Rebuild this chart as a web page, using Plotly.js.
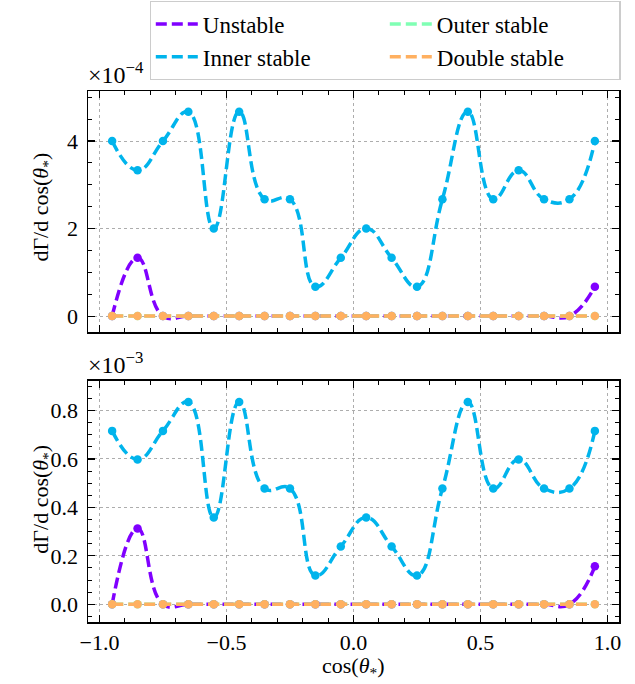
<!DOCTYPE html>
<html>
<head>
<meta charset="utf-8">
<script src="https://cdn.plot.ly/plotly-3.0.1.min.js"></script>
<style>html,body{margin:0;padding:0;background:#fff;}#plot{width:635px;height:684px;}</style>
</head>
<body>
<div id="plot"></div>
<script>
// cos(theta*) bin centres
const cosTheta = [-0.95,-0.85,-0.75,-0.65,-0.55,-0.45,-0.35,-0.25,-0.15,-0.05,0.05,0.15,0.25,0.35,0.45,0.55,0.65,0.75,0.85,0.95];

// Top panel (x1e-4)
const topUnstable = [0,1.33,0,0,0,0,0,0,0,0,0,0,0,0,0,0,0,0,0,0.67].map(v=>v*1e-4);
const topInner    = [4.0,3.33,4.0,4.67,2.0,4.67,2.67,2.67,0.67,1.33,2.0,1.33,0.67,2.67,4.67,2.67,3.33,2.67,2.67,4.0].map(v=>v*1e-4);
const topOuter    = [0,0,0,0,0,0,0,0,0,0,0,0,0,0,0,0,0,0,0,0];
const topDouble   = [0,0,0,0,0,0,0,0,0,0,0,0,0,0,0,0,0,0,0,0];

// Bottom panel (x1e-3)
const botUnstable = [0,0.313,0,0,0,0,0,0,0,0,0,0,0,0,0,0,0,0,0,0.157].map(v=>v*1e-3);
const botInner    = [0.716,0.598,0.716,0.835,0.358,0.835,0.478,0.478,0.119,0.239,0.358,0.239,0.119,0.478,0.835,0.478,0.598,0.478,0.478,0.716].map(v=>v*1e-3);
const botOuter    = [0,0,0,0,0,0,0,0,0,0,0,0,0,0,0,0,0,0,0,0];
const botDouble   = [0,0,0,0,0,0,0,0,0,0,0,0,0,0,0,0,0,0,0,0];

const seriesNames = ['Unstable','Inner stable','Outer stable','Double stable'];
const seriesColors = ['#8000ff','#00b4ec','#80ffb4','#ffb060'];
const legendRanks = [1,3,2,4];

const topData = [topUnstable, topInner, topOuter, topDouble];
const botData = [botUnstable, botInner, botOuter, botDouble];

const FONT = 'Liberation Serif, DejaVu Serif, serif';
const traces = [];
function addPanel(data, xa, ya, showLegend){
  data.forEach((vals,i)=>{
    traces.push({
      x: cosTheta, y: vals, xaxis: xa, yaxis: ya, type:'scatter', mode:'lines',
      name: seriesNames[i], legendrank: legendRanks[i], showlegend: showLegend,
      line:{color: seriesColors[i], width:3.5, dash:'11px,5px', shape:'spline', smoothing:1.3},
      hoverinfo:'skip'
    });
    traces.push({
      x: cosTheta, y: vals, xaxis: xa, yaxis: ya, type:'scatter', mode:'markers',
      showlegend:false, name: seriesNames[i],
      marker:{color: seriesColors[i], size:8.5}
    });
  });
}
addPanel(topData,'x','y',true);
addPanel(botData,'x2','y2',false);

const axCommon = {
  showline:true, linecolor:'black', linewidth:1.5, mirror:'allticks',
  ticks:'inside', ticklen:7, tickwidth:1.1, tickcolor:'black',
  showgrid:true, gridcolor:'#999', griddash:'dot', gridwidth:0.8,
  zeroline:false, automargin:false, tickfont:{family:FONT, size:22, color:'black'}
};

const layout = {
  width:635, height:684,
  margin:{l:88, r:16, t:91, b:62, autoexpand:false},
  paper_bgcolor:'white', plot_bgcolor:'white',
  font:{family:FONT, size:22, color:'black'},
  showlegend:true,
  legend:{orientation:'h', x:1.003, xanchor:'right', y:1.169, yanchor:'top',
    bordercolor:'#cccccc', borderwidth:1.2, bgcolor:'white',
    font:{family:FONT, size:23}, entrywidth:177, itemwidth:42, tracegroupgap:0},
  xaxis: Object.assign({}, axCommon, {domain:[0,1], anchor:'y', range:[-1.045,1.045],
    tickvals:[-1,-0.5,0,0.5,1], showticklabels:false,
    minor:{dtick:0.1, tick0:0, ticks:'inside', ticklen:4, tickwidth:1, tickcolor:'black', showgrid:false}}),
  yaxis: Object.assign({}, axCommon, {domain:[0.546,1], anchor:'x', range:[-0.366e-4,5.143e-4],
    tickvals:[0,2e-4,4e-4], ticktext:['0','2','4'], ticklabelstandoff:4,
    minor:{dtick:0.5e-4, tick0:0, ticks:'inside', ticklen:4, tickwidth:1, tickcolor:'black', showgrid:false}}),
  xaxis2: Object.assign({}, axCommon, {domain:[0,1], anchor:'y2', range:[-1.045,1.045], matches:'x',
    tickvals:[-1,-0.5,0,0.5,1], ticktext:['\u22121.0','\u22120.5','0.0','0.5','1.0'], ticklabelstandoff:0,
    minor:{dtick:0.1, tick0:0, ticks:'inside', ticklen:4, tickwidth:1, tickcolor:'black', showgrid:false}}),
  yaxis2: Object.assign({}, axCommon, {domain:[0,0.4539], anchor:'x2', range:[-0.073e-3,0.922e-3],
    tickvals:[0,0.2e-3,0.4e-3,0.6e-3,0.8e-3], ticktext:['0.0','0.2','0.4','0.6','0.8'], ticklabelstandoff:4,
    minor:{dtick:0.05e-3, tick0:0, ticks:'inside', ticklen:4, tickwidth:1, tickcolor:'black', showgrid:false}}),
  annotations:[
    {xref:'paper', yref:'paper', x:-0.003, y:1.001, xanchor:'left', yanchor:'bottom', showarrow:false,
     text:'\u00d710<sup>\u22124</sup>', font:{family:FONT, size:24}},
    {xref:'paper', yref:'paper', x:-0.003, y:0.455, xanchor:'left', yanchor:'bottom', showarrow:false,
     text:'\u00d710<sup>\u22123</sup>', font:{family:FONT, size:24}},
    {xref:'paper', yref:'paper', x:-0.086, y:0.781, xanchor:'center', yanchor:'middle', showarrow:false, textangle:-90,
     text:'d\u0393/d cos(<i>\u03b8</i><sub>*</sub>)', font:{family:FONT, size:22}},
    {xref:'paper', yref:'paper', x:-0.086, y:0.231, xanchor:'center', yanchor:'middle', showarrow:false, textangle:-90,
     text:'d\u0393/d cos(<i>\u03b8</i><sub>*</sub>)', font:{family:FONT, size:22}},
    {xref:'paper', yref:'paper', x:0.5, y:-0.084, xanchor:'center', yanchor:'middle', showarrow:false,
     text:'cos(<i>\u03b8</i><sub>*</sub>)', font:{family:FONT, size:22}}
  ]
};

Plotly.newPlot('plot', traces, layout, {staticPlot:true, displayModeBar:false});
</script>
</body>
</html>
